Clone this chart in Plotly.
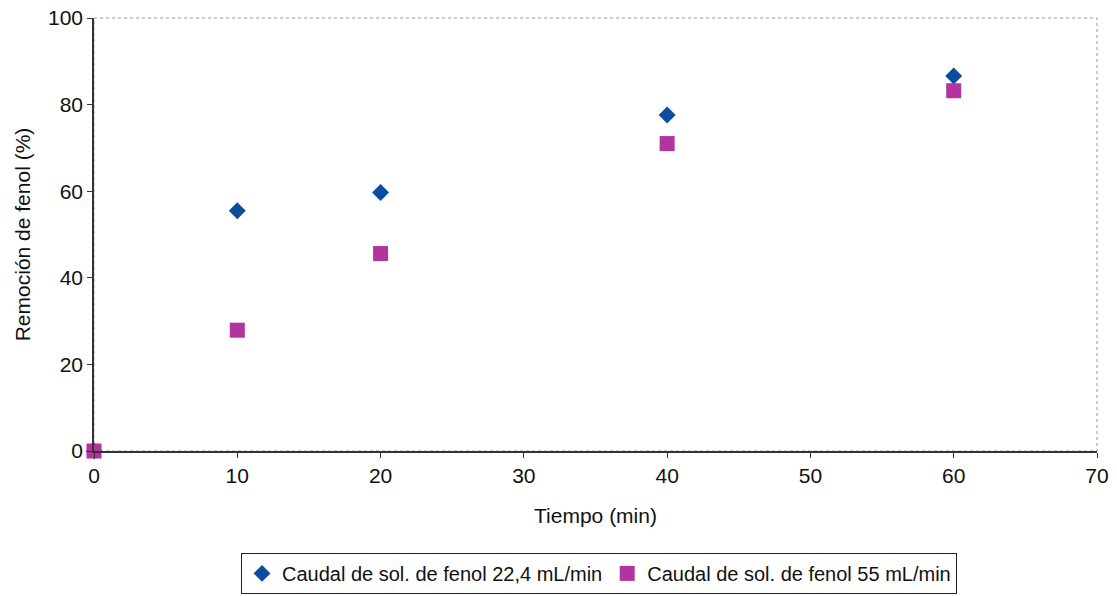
import plotly.graph_objects as go

tiempo = [0, 10, 20, 40, 60]
caudal_22 = [0, 55.5, 59.7, 77.6, 86.6]
caudal_55 = [0, 27.9, 45.6, 71.0, 83.2]
name_22 = "Caudal de sol. de fenol 22,4 mL/min"
name_55 = "Caudal de sol. de fenol 55 mL/min"

fig = go.Figure()
fig.add_trace(go.Scatter(x=tiempo, y=caudal_22, mode="markers", name=name_22,
                         marker=dict(symbol="diamond", size=13, color="#0a4c9f",
                                     line=dict(width=0)), cliponaxis=False))
fig.add_trace(go.Scatter(x=tiempo, y=caudal_55, mode="markers", name=name_55,
                         marker=dict(symbol="square", size=15, color="#b3339f",
                                     line=dict(width=0)), cliponaxis=False))

font = dict(family="Liberation Sans, Arial, sans-serif", size=21, color="#111")
legfont = dict(family="Liberation Sans, Arial, sans-serif", size=20, color="#111")
fig.update_layout(
    width=1117, height=596,
    margin=dict(l=94, r=20, t=18, b=145, autoexpand=False),
    paper_bgcolor="white", plot_bgcolor="white",
    font=font,
    showlegend=True,
    legend=dict(orientation="h", x=0.5035, y=-0.330, xanchor="center", yanchor="bottom",
                bordercolor="#222", borderwidth=1, font=legfont,
                itemwidth=30, tracegroupgap=0),
    xaxis=dict(range=[0, 70], tickvals=[0, 10, 20, 30, 40, 50, 60, 70],
               showgrid=False, zeroline=False, showline=True, linecolor="#333",
               linewidth=1.5, ticks="outside", ticklen=5, tickcolor="#333",
               title=dict(text="Tiempo (min)", font=font, standoff=22)),
    yaxis=dict(range=[0, 100], tickvals=[0, 20, 40, 60, 80, 100],
               showgrid=False, zeroline=False, showline=True, linecolor="#333",
               linewidth=1.5, ticks="outside", ticklen=5, tickcolor="#333",
               title=dict(text="Remoción de fenol (%)", font=font, standoff=12)),
    shapes=[dict(type="rect", xref="paper", yref="paper", x0=0, x1=1, y0=0, y1=1,
                 line=dict(color="#999", width=1, dash="dot"), layer="below")],
)
fig.write_html("out.html")
